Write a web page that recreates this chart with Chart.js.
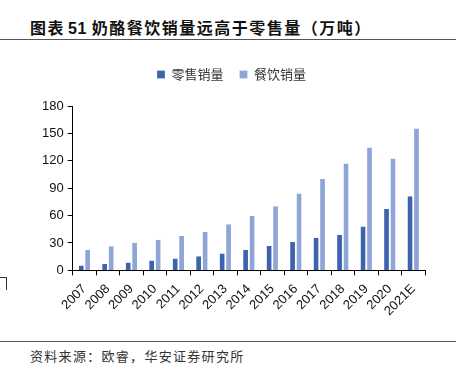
<!DOCTYPE html>
<html lang="zh">
<head>
  <meta charset="UTF-8">
  <title>奶酪餐饮销量远高于零售量</title>
  <script src="https://cdn.jsdelivr.net/npm/chart.js"></script>
  <style>
    body { margin: 0; background: #fff; width: 459px; height: 373px; position: relative; overflow: hidden; font-family: "Noto Sans CJK SC", sans-serif; }
    #title { position: absolute; left: 30px; top: 15px; font-size: 16px; font-weight: bold; color: #111; white-space: nowrap; letter-spacing: 1.5px; }
    #title b { font-family: "Liberation Sans", Arial, sans-serif; margin: 0 5px 0 3px; letter-spacing: 0.5px; }
    .rule { position: absolute; left: 0; width: 456px; height: 0; border-top: 1px solid #555; }
    #source { position: absolute; left: 30px; top: 346px; font-size: 13px; color: #333; white-space: nowrap; letter-spacing: 1.3px; }
    #mark { position: absolute; left: 0; top: 277px; width: 6px; height: 12px; border-top: 1px solid #333; border-right: 1px solid #333; }
    #box { position: absolute; left: 0; top: 52px; width: 459px; height: 273px; }
  </style>
</head>
<body>
  <div id="title">图表<b>51</b>奶酪餐饮销量远高于零售量（万吨）</div>
  <div class="rule" style="top:39px"></div>
  <div id="box"><canvas id="c"></canvas></div>
  <div id="mark"></div>
  <div class="rule" style="top:341px"></div>
  <div id="source">资料来源：欧睿，华安证券研究所</div>

  <script>
    const years = ['2007', '2008', '2009', '2010', '2011', '2012', '2013', '2014', '2015', '2016', '2017', '2018', '2019', '2020', '2021E'];
    const retail = [5.4, 6.9, 8.7, 10.8, 13, 15.5, 18.4, 22.4, 26.7, 31.1, 35.8, 39, 48, 67.2, 81.3];
    const catering = [22.4, 26.4, 30, 33.6, 37.6, 42, 50.6, 59.6, 70.1, 84.2, 100, 117, 134.5, 122.5, 155.4];
    const yTicks = [0, 30, 60, 90, 120, 150, 180];

    // extra room under the legend
    const legendGap = {
      id: 'legendGap',
      beforeInit(chart) {
        const fit = chart.legend.fit;
        chart.legend.fit = function () { fit.call(this); this.height += 15; };
      }
    };

    new Chart(document.getElementById('c'), {
      type: 'bar',
      data: {
        labels: years,
        datasets: [
          { label: '零售销量', data: retail, backgroundColor: '#3d63ad', borderColor: '#fff', borderWidth: { left: 0.5, right: 0.5 } },
          { label: '餐饮销量', data: catering, backgroundColor: '#8fa5d7', borderColor: '#fff', borderWidth: { left: 0.5, right: 0.5 } }
        ]
      },
      plugins: [legendGap],
      options: {
        responsive: true,
        maintainAspectRatio: false,
        animation: false,
        layout: { padding: { left: 38, right: 34, top: 0, bottom: 0 } },
        datasets: { bar: { categoryPercentage: 0.55, barPercentage: 0.88 } },
        plugins: {
          legend: {
            labels: {
              boxWidth: 8, boxHeight: 8, padding: 16, color: '#333',
              font: { family: 'Noto Sans CJK SC', size: 13 }
            }
          },
          tooltip: { enabled: false }
        },
        scales: {
          x: {
            grid: { drawOnChartArea: false, color: '#000', tickLength: 5, offset: true },
            border: { color: '#000' },
            ticks: { color: '#111', autoSkip: false, minRotation: 45, maxRotation: 45, padding: 6, font: { family: 'Liberation Sans', size: 13 } }
          },
          y: {
            min: 0, max: 180,
            afterBuildTicks: axis => { axis.ticks = yTicks.map(v => ({ value: v })); },
            grid: { drawOnChartArea: false, color: '#000', tickLength: 5 },
            border: { color: '#000' },
            ticks: { color: '#111', padding: 4, font: { family: 'Liberation Sans', size: 13 } }
          }
        }
      }
    });
  </script>
</body>
</html>
